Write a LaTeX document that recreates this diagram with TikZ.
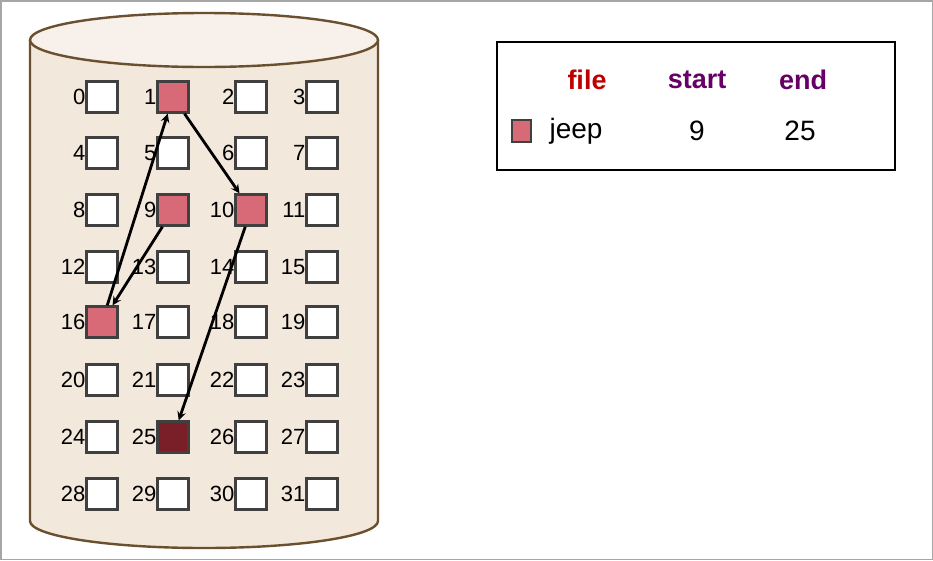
\documentclass[tikz,border=0pt]{standalone}
\usepackage{fontspec}
\setmainfont{Liberation Sans}
\begin{document}
\begin{tikzpicture}[x=1pt,y=-1pt,
  blk/.style={draw=black!75,line width=2.4pt,fill=white,minimum size=31pt,inner sep=0pt},
  lab/.style={font=\fontsize{22}{22}\selectfont,anchor=east,inner sep=0.5pt},
  arr/.style={-stealth,line width=2.8pt},
  hdr/.style={font=\bfseries\fontsize{27}{27}\selectfont}]
\definecolor{cyl}{HTML}{F2E8DC}\definecolor{cyltop}{HTML}{F8F0EA}\definecolor{cylline}{HTML}{6B5030}
\definecolor{usedc}{HTML}{D86A78}\definecolor{lastc}{HTML}{7A1E28}
\definecolor{purp}{HTML}{660066}
\tikzset{used/.style={blk,fill=usedc},last/.style={blk,fill=lastc}}
\draw[gray!70,line width=1.5pt,fill=white] (0.75,0.75) rectangle (932.25,559.25);
\useasboundingbox (0,0) rectangle (933,560);
% cylinder
\path[fill=cyl,draw=cylline,line width=2.4pt] (30,40) -- (30,521) arc[start angle=180,end angle=0,x radius=174,y radius=27] -- (378,40);
\draw[fill=cyltop,draw=cylline,line width=2.4pt] (204,40) ellipse[x radius=174,y radius=27];
% grid
\foreach \r/\y in {0/97,1/153,2/210,3/267,4/322,5/380,6/437,7/494}{
  \foreach \c/\x in {0/102,1/173,2/251,3/322}{
    \pgfmathtruncatemacro{\n}{\r*4+\c}
    \node[blk] (b\n) at (\x,\y) {};
    \node[lab] at (\x-16,\y) {\n};
  }}
\foreach \n in {1,9,10,16}{\node[used] at (b\n) {};}
\node[last] at (b25) {};
\draw[arr] (b9) -- (b16);
\draw[arr] (b16) -- (b1);
\draw[arr] (b1) -- (b10);
\draw[arr] (b10) -- (b25);
% legend
\node[draw=black,line width=1.8pt,minimum width=398pt,minimum height=128pt] (leg) at (696,106) {};
\node[hdr,text=red!75!black] (hf) at (587,80) {file};
\node[hdr,text=purp] (hs) at (697,80) {start};
\node[hdr,text=purp] (he) at (803,80) {end};
\node[draw=black!75,line width=2pt,fill=usedc,minimum width=19pt,minimum height=22pt,inner sep=0pt] (ls) at (521,131) {};
\node[font=\fontsize{28}{28}\selectfont] (lj) at (576,131) {jeep};
\node[font=\fontsize{28}{28}\selectfont] (l9) at (697,131) {9};
\node[font=\fontsize{28}{28}\selectfont] (l25) at (800,131) {25};
\end{tikzpicture}
\end{document}
